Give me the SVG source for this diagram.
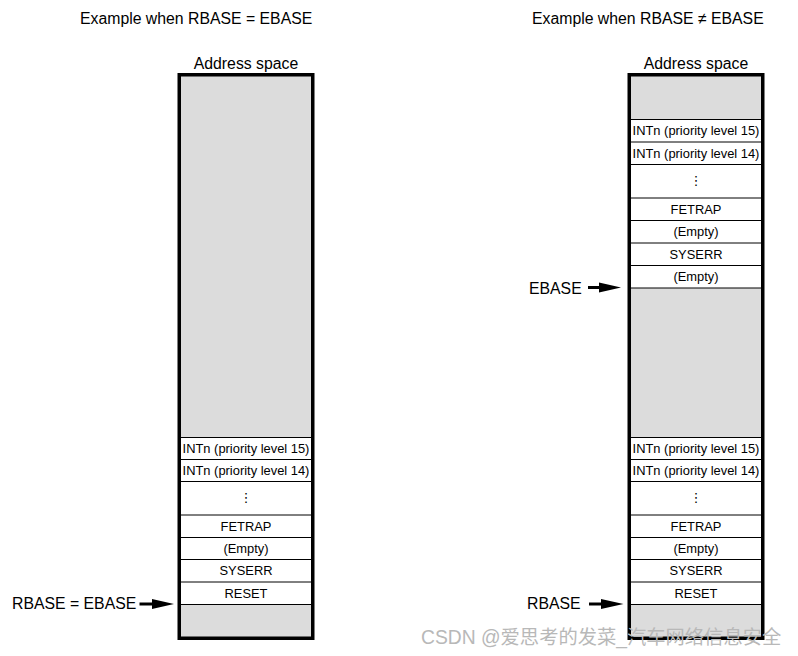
<svg xmlns="http://www.w3.org/2000/svg" width="798" height="656" viewBox="0 0 798 656">
<style>
  .t{font-family:"Liberation Sans",Arial,sans-serif;fill:#000}
  .title{font-size:15.8px}
  .cell{font-size:12.9px;text-anchor:middle}
  .dots{font-family:"DejaVu Sans",sans-serif;font-size:13px;text-anchor:middle;fill:#000}
  .gray{fill:#dcdcdc}
  .white{fill:#fff}
  .sep{stroke:#000;stroke-width:1}
  .frame{fill:none;stroke:#000;stroke-width:3.5}
  .arrow line{stroke:#000;stroke-width:3}
  .wm{font-family:"Liberation Sans","Noto Sans CJK SC",sans-serif;font-size:19.3px;fill:#b8b8b8}
</style>
<rect width="798" height="656" fill="#fff"/>

<text class="t title" x="80" y="23.5">Example when RBASE = EBASE</text>
<text class="t title" x="532" y="23.5">Example when RBASE ≠ EBASE</text>

<!-- Left address space -->
<g id="left-space">
  <text class="t title" x="246" y="68.5" text-anchor="middle">Address space</text>
  <rect class="gray" x="179" y="75" width="134" height="362.5"/>
  <rect class="white" x="179" y="437.5" width="134" height="167"/>
  <rect class="gray" x="179" y="604.5" width="134" height="34"/>
  <g class="sep">
    <line x1="179" y1="437.5" x2="313" y2="437.5"/>
    <line x1="179" y1="459.5" x2="313" y2="459.5"/>
    <line x1="179" y1="481.5" x2="313" y2="481.5"/>
    <line x1="179" y1="515" x2="313" y2="515"/>
    <line x1="179" y1="537.5" x2="313" y2="537.5"/>
    <line x1="179" y1="559.5" x2="313" y2="559.5"/>
    <line x1="179" y1="582" x2="313" y2="582"/>
    <line x1="179" y1="604.5" x2="313" y2="604.5"/>
  </g>
  <text class="t cell" x="246" y="453">INTn (priority level 15)</text>
  <text class="t cell" x="246" y="475">INTn (priority level 14)</text>
  <text class="dots" x="246" y="502">⋮</text>
  <text class="t cell" x="246" y="530.8">FETRAP</text>
  <text class="t cell" x="246" y="553">(Empty)</text>
  <text class="t cell" x="246" y="575.3">SYSERR</text>
  <text class="t cell" x="246" y="597.8">RESET</text>
  <rect class="frame" x="179.25" y="74.75" width="133.5" height="563.5"/>
</g>

<!-- Right address space -->
<g id="right-space">
  <text class="t title" x="696" y="68.5" text-anchor="middle">Address space</text>
  <rect class="gray" x="629" y="75" width="134" height="44.5"/>
  <rect class="white" x="629" y="119.5" width="134" height="168.5"/>
  <rect class="gray" x="629" y="288" width="134" height="149.5"/>
  <rect class="white" x="629" y="437.5" width="134" height="167"/>
  <rect class="gray" x="629" y="604.5" width="134" height="34"/>
  <g class="sep">
    <line x1="629" y1="119.5" x2="763" y2="119.5"/>
    <line x1="629" y1="142" x2="763" y2="142"/>
    <line x1="629" y1="164.5" x2="763" y2="164.5"/>
    <line x1="629" y1="198" x2="763" y2="198"/>
    <line x1="629" y1="220.5" x2="763" y2="220.5"/>
    <line x1="629" y1="243" x2="763" y2="243"/>
    <line x1="629" y1="265.5" x2="763" y2="265.5"/>
    <line x1="629" y1="288" x2="763" y2="288"/>
    <line x1="629" y1="437.5" x2="763" y2="437.5"/>
    <line x1="629" y1="459.5" x2="763" y2="459.5"/>
    <line x1="629" y1="481.5" x2="763" y2="481.5"/>
    <line x1="629" y1="515" x2="763" y2="515"/>
    <line x1="629" y1="537.5" x2="763" y2="537.5"/>
    <line x1="629" y1="559.5" x2="763" y2="559.5"/>
    <line x1="629" y1="582" x2="763" y2="582"/>
    <line x1="629" y1="604.5" x2="763" y2="604.5"/>
  </g>
  <text class="t cell" x="696" y="135.3">INTn (priority level 15)</text>
  <text class="t cell" x="696" y="157.8">INTn (priority level 14)</text>
  <text class="dots" x="696" y="185">⋮</text>
  <text class="t cell" x="696" y="213.8">FETRAP</text>
  <text class="t cell" x="696" y="236.3">(Empty)</text>
  <text class="t cell" x="696" y="258.8">SYSERR</text>
  <text class="t cell" x="696" y="281.3">(Empty)</text>
  <text class="t cell" x="696" y="453">INTn (priority level 15)</text>
  <text class="t cell" x="696" y="475">INTn (priority level 14)</text>
  <text class="dots" x="696" y="502">⋮</text>
  <text class="t cell" x="696" y="530.8">FETRAP</text>
  <text class="t cell" x="696" y="553">(Empty)</text>
  <text class="t cell" x="696" y="575.3">SYSERR</text>
  <text class="t cell" x="696" y="597.8">RESET</text>
  <rect class="frame" x="629.25" y="74.75" width="133.5" height="563.5"/>
</g>

<!-- Labels -->
<g id="label-left-rbase-ebase"><text class="t title" x="12" y="608.5">RBASE = EBASE</text></g>
<g id="label-right-ebase"><text class="t title" x="529" y="293.5">EBASE</text></g>
<g id="label-right-rbase"><text class="t title" x="527" y="608.5">RBASE</text></g>

<!-- Connectors -->
<g id="connectors" class="arrow">
  <line x1="139.5" y1="604" x2="154" y2="604"/>
  <polygon points="152,599 174,604 152,609"/>
  <line x1="589" y1="604" x2="603" y2="604"/>
  <polygon points="601,599 623.5,604 601,609"/>
  <line x1="588" y1="287.5" x2="601" y2="287.5"/>
  <polygon points="599,282.5 621,287.5 599,292.5"/>
</g>

<text class="wm" x="421" y="643.5">CSDN @爱思考的发菜_汽车网络信息安全</text>
</svg>
